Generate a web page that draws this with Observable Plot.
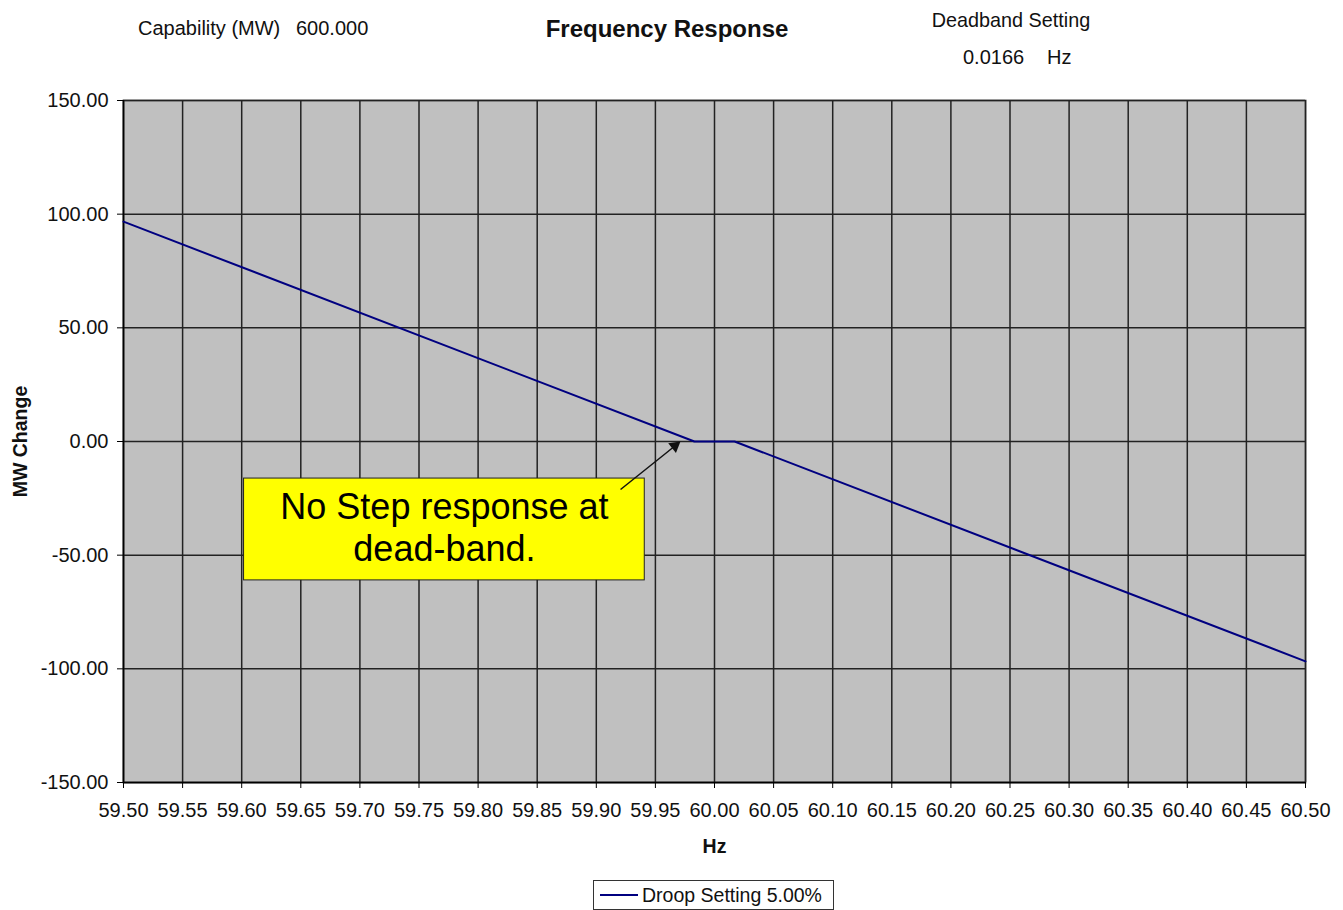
<!DOCTYPE html>
<html>
<head>
<meta charset="utf-8">
<script src="https://cdn.jsdelivr.net/npm/d3@7"></script>
<script src="https://cdn.jsdelivr.net/npm/@observablehq/plot@0.6"></script>
<style>
  html, body { margin: 0; padding: 0; background: #fff; }
  #wrap { position: relative; width: 1343px; height: 910px; font-family: "Liberation Sans", Arial, sans-serif; color: #111; overflow: hidden; }
  .t { position: absolute; white-space: pre; font-size: 19.5px; line-height: 1; }
  #chart { position: absolute; left: 0; top: 80px; }
  #legend { position: absolute; left: 593px; top: 880px; width: 241px; height: 30px; border: 1.5px solid #333; box-sizing: border-box; display: flex; align-items: center; font-size: 19.5px; }
  #legend .sw { width: 38px; height: 0; border-top: 2px solid #000080; margin: 0 4px 0 6px; }
</style>
</head>
<body>
<div id="wrap">
  <div class="t" style="left:138px; top:18px; font-size:20px;">Capability (MW)</div>
  <div class="t" style="left:296px; top:18px; font-size:20px;">600.000</div>
  <div class="t" style="left:667px; top:17px; transform:translateX(-50%); font-weight:bold; font-size:24px;">Frequency Response</div>
  <div class="t" style="left:1011px; top:11px; transform:translateX(-50%); font-size:19.8px;">Deadband Setting</div>
  <div class="t" style="left:963px; top:47px; font-size:20px;">0.0166</div>
  <div class="t" style="left:1047px; top:47px; font-size:20px;">Hz</div>
  <div id="chart"></div>
  <div id="legend"><div class="sw"></div><span>Droop Setting 5.00%</span></div>
</div>
<script>
// Data
const hz = [59.50, 59.983, 60.017, 60.50];
const mwChange = [96.7, 0, 0, -96.7];
const xTicks = [59.50, 59.55, 59.60, 59.65, 59.70, 59.75, 59.80, 59.85, 59.90, 59.95, 60.00,
                60.05, 60.10, 60.15, 60.20, 60.25, 60.30, 60.35, 60.40, 60.45, 60.50];
const yTicks = [-150, -100, -50, 0, 50, 100, 150];
// Annotation (in data units)
const noteText = ["No Step response at\ndead-band."];
const noteBoxX = [59.602, 59.941];
const noteBoxY = [-16.3, -61.1];
const arrowFrom = [59.9205, -21.1];
const arrowTo = [59.9712, 0];

const fmt = d => d.toFixed(2);

// Plot frame geometry (for orienting the arrowhead)
const W = 1343, H = 790, ML = 123, MR = 38, MT = 20, MB = 88;
const pxPerX = (W - ML - MR) / (60.5 - 59.5);
const pxPerY = (H - MT - MB) / 300;
const sdx = (arrowTo[0] - arrowFrom[0]) * pxPerX;
const sdy = -(arrowTo[1] - arrowFrom[1]) * pxPerY;
const slen = Math.hypot(sdx, sdy);
const ux = sdx / slen, uy = sdy / slen;
const headR = 4.6;
const headBack = 2 * Math.sqrt(Math.PI * headR * headR / (Math.sqrt(3) * 3));
const headCenter = [arrowTo[0] - headBack * ux / pxPerX, arrowTo[1] + headBack * uy / pxPerY];
const headRot = Math.atan2(ux, -uy) * 180 / Math.PI;

const chart = Plot.plot({
  width: W,
  height: H,
  marginLeft: ML,
  marginRight: MR,
  marginTop: MT,
  marginBottom: MB,
  x: { domain: [59.5, 60.5] },
  y: { domain: [-150, 150] },
  style: { fontFamily: "'Liberation Sans', Arial, sans-serif", fontSize: "20px", color: "#111", background: "transparent" },
  marks: [
    Plot.frame({ fill: "#c0c0c0", stroke: "#888", strokeWidth: 2 }),
    Plot.gridX(xTicks, { stroke: "#222", strokeOpacity: 1, strokeWidth: 1.5 }),
    Plot.gridY(yTicks, { stroke: "#222", strokeOpacity: 1, strokeWidth: 1.5 }),
    Plot.ruleX([xTicks[0]], { stroke: "#000", strokeWidth: 1.5 }),
    Plot.ruleY([yTicks[0]], { stroke: "#000", strokeWidth: 1.5 }),
    Plot.axisX(xTicks, { tickFormat: fmt, tickSize: 6, tickPadding: 14, label: null, stroke: "#000", fontSize: 20 }),
    Plot.axisY(yTicks, { tickFormat: fmt, tickSize: 6, tickPadding: 9, label: null, stroke: "#000", fontSize: 20 }),
    Plot.line({ length: hz.length }, { x: hz, y: mwChange, stroke: "#000080", strokeWidth: 2 }),
    Plot.rect([0], { x1: noteBoxX[0], x2: noteBoxX[1], y1: noteBoxY[0], y2: noteBoxY[1], fill: "#ffff00", stroke: "#222", strokeWidth: 1 }),
    Plot.text(noteText, { x: (noteBoxX[0] + noteBoxX[1]) / 2, y: (noteBoxY[0] + noteBoxY[1]) / 2, dy: -3, text: d => d, fontSize: 36, lineHeight: 1.17, fill: "#000" }),
    Plot.link([0], { x1: arrowFrom[0], y1: arrowFrom[1], x2: headCenter[0], y2: headCenter[1], stroke: "#111", strokeWidth: 1.5 }),
    Plot.dot([0], { x: headCenter[0], y: headCenter[1], symbol: "triangle", r: headR, rotate: headRot, fill: "#111", stroke: "none" }),
    Plot.text(["Hz"], { frameAnchor: "bottom", dy: 70, text: d => d, fontWeight: "bold", fontSize: 19.5 }),
    Plot.text(["MW Change"], { frameAnchor: "left", dx: -103, rotate: -90, textAnchor: "middle", text: d => d, fontWeight: "bold", fontSize: 19.5 })
  ]
});
document.getElementById("chart").appendChild(chart);
</script>
</body>
</html>
